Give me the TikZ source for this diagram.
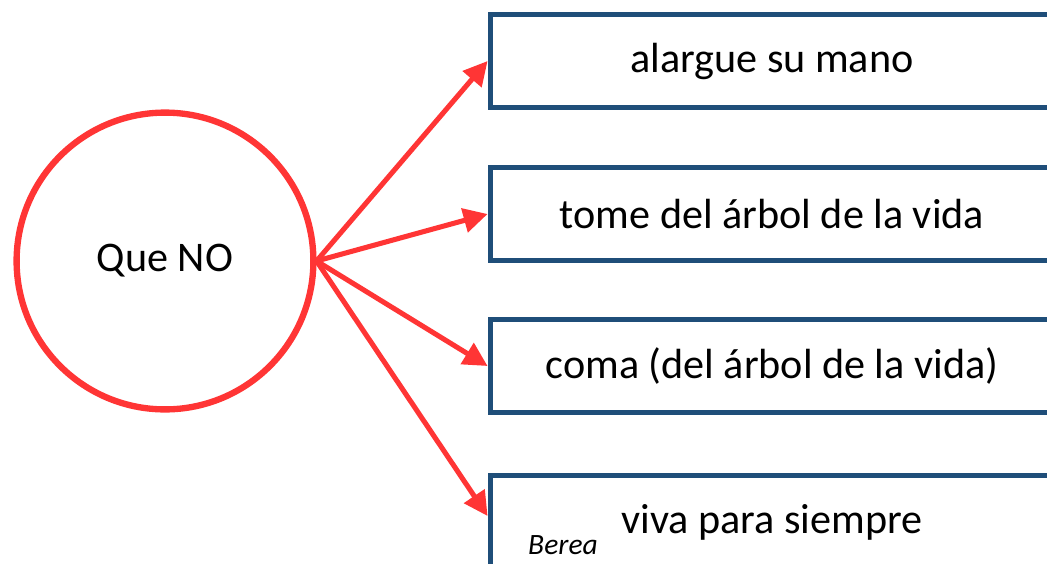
\documentclass[tikz,border=0pt]{standalone}
\usepackage{fontspec}
\setmainfont{Carlito}
\usetikzlibrary{arrows.meta}
\definecolor{queRed}{HTML}{FF3535}
\definecolor{boxBlue}{HTML}{1F4E79}
\tikzset{
	cajita/.style={draw=boxBlue, line width=4pt, minimum width=14.08cm, minimum height=2.33cm, inner sep=0pt, font=\fontsize{30}{36}\selectfont},
	flecha/.style={draw=queRed, line width=3.6pt, -{Triangle[length=0.6cm, width=0.6cm]}}
}

\begin{document}
\begin{tikzpicture}
		%%%%% START %%%%%
		\useasboundingbox (0, 0) rectangle (26.175, -14.075);
		
		\node[circle, draw=queRed, line width=4.5pt, minimum size=7.42cm, font=\fontsize{30}{36}\selectfont] (que) at (4.125, -6.525) {Que NO};
		
		\node[cajita] (mano) at (19.3, -1.525) {alargue su mano};
		\node[cajita] (tome) at (19.3, -5.35) {tome del árbol de la vida};
		\node[cajita] (coma) at (19.3, -9.15) {coma (del árbol de la vida)};
		\node[cajita] (viva) at (19.3, -13.05) {viva para siempre};
		
		\node[inner sep=0pt, font=\fontsize{21}{25}\selectfont\itshape] (berea) at (14.075, -13.62) {Berea};
		
		\draw[flecha] (que.east) -- (mano.west);
		\draw[flecha] (que.east) -- (tome.west);
		\draw[flecha] (que.east) -- (coma.west);
		\draw[flecha] (que.east) -- ([yshift=0.15cm]viva.west);
		
		%%%%% END %%%%%
	\end{tikzpicture}
\end{document}
